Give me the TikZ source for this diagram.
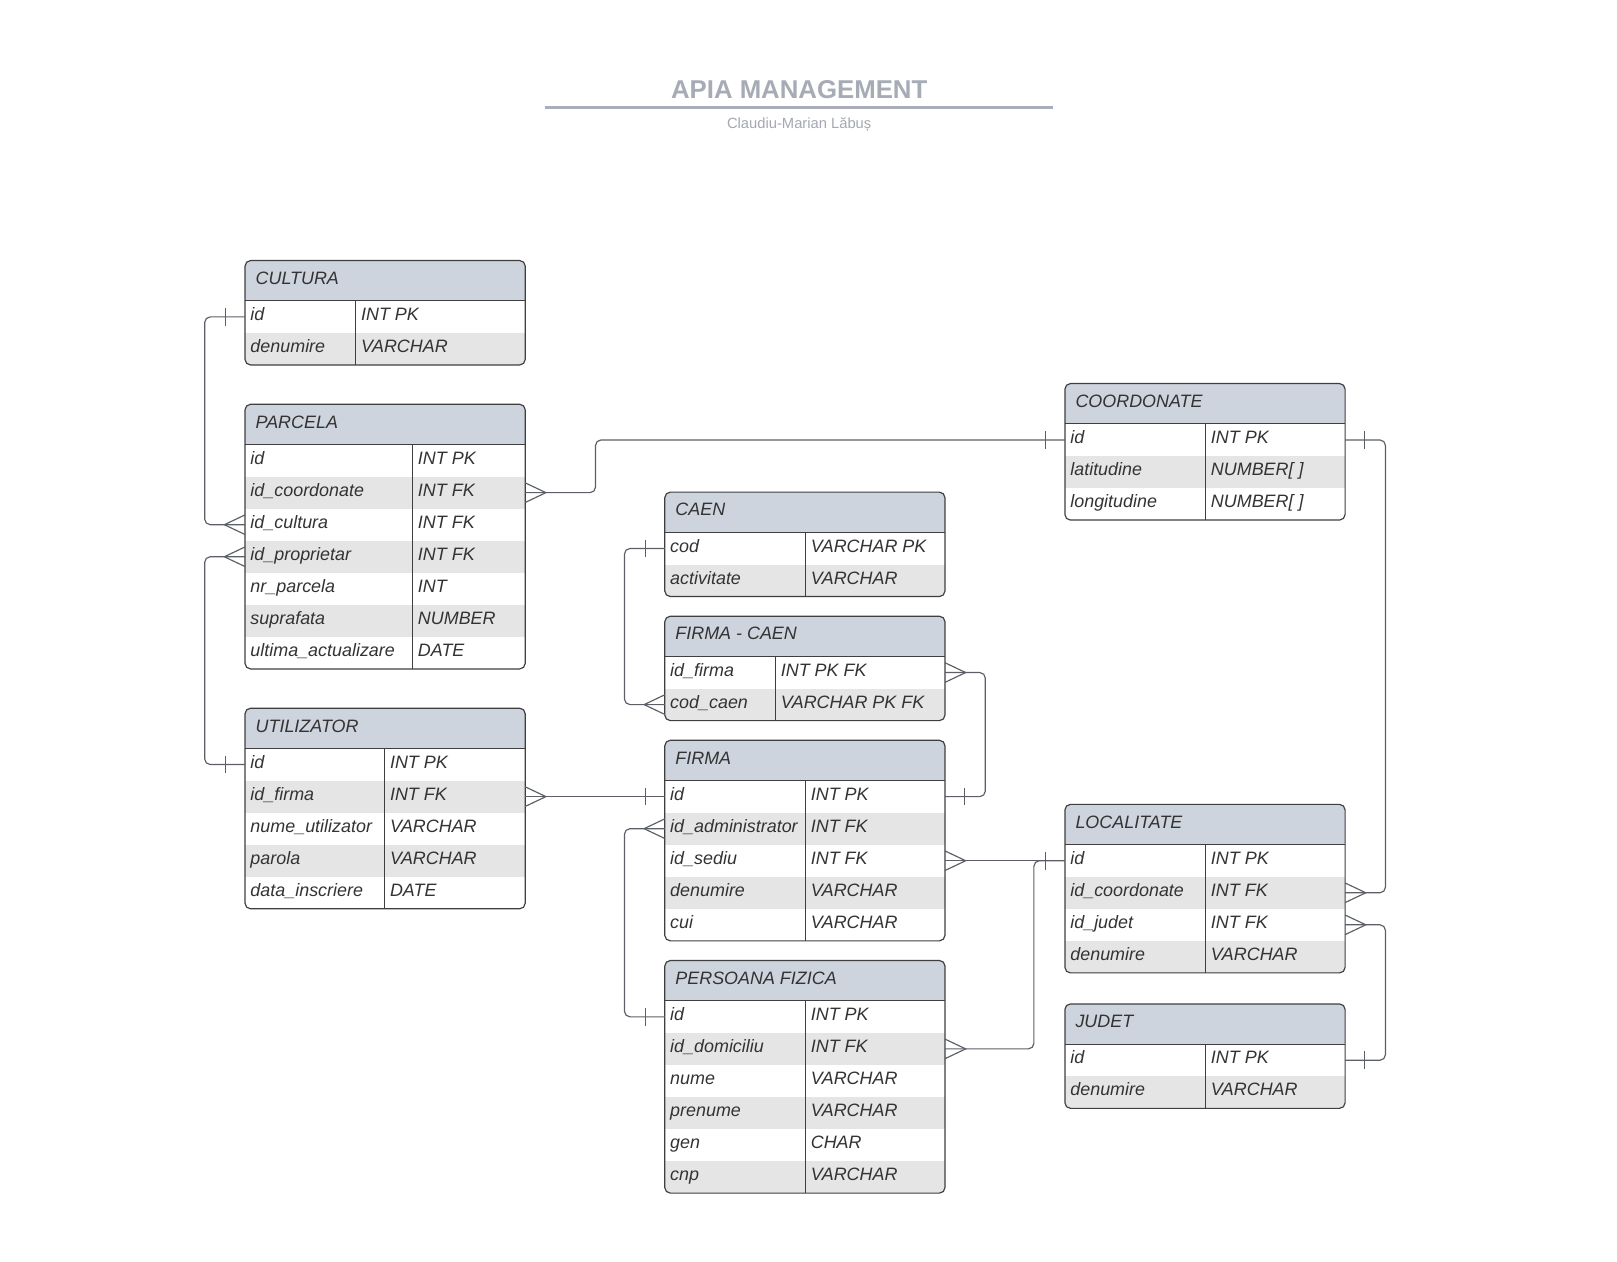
\documentclass[tikz,border=0pt]{standalone}
\usepackage{fontspec}
\setmainfont{Liberation Sans}
\usetikzlibrary{calc}
\definecolor{headfill}{HTML}{CED4DD}
\definecolor{rowfill}{HTML}{E5E5E5}
\definecolor{boxcol}{HTML}{3F3F3F}
\definecolor{conncol}{HTML}{5C6066}
\definecolor{txtcol}{HTML}{333333}
\definecolor{titlecol}{HTML}{A6ABB6}
\definecolor{ulinecol}{HTML}{AAAEBA}
\definecolor{subcol}{HTML}{A4A8B0}
\tikzset{
  boxline/.style={draw=boxcol, line width=0.85pt},
  conn/.style={draw=conncol, line width=0.85pt, rounded corners=4},
  fldtxt/.style={anchor=base west, inner sep=0pt, text=txtcol, font=\fontsize{13}{15}\selectfont\itshape},
  headtxt/.style={anchor=base west, inner sep=0pt, text=txtcol, font=\fontsize{13}{15}\selectfont\itshape},
  titletxt/.style={anchor=base, inner sep=0pt, text=titlecol, font=\fontsize{18.7}{22}\selectfont\bfseries},
  subtxt/.style={anchor=base, inner sep=0pt, text=subcol, font=\fontsize{10.7}{13}\selectfont},
}
\newcommand\erdtab[8]{%
  \pgfmathsetmacro\erdhb{#5+39}%
  \pgfmathsetmacro\erdbot{#5+39+31*#6}%
  \begin{scope}
    \clip[rounded corners=4] (#2,#5) rectangle (#3,\erdbot);
    \fill[white] (#2,#5) rectangle (#3,\erdbot);
    \fill[headfill] (#2,#5) rectangle (#3,\erdhb);
    \foreach \fa/\ty [count=\i] in {#8} {
      \ifodd\i\relax\else
        \fill[rowfill] (#2,{\erdhb+31*(\i-1)}) rectangle (#3,{\erdhb+31*\i});
      \fi
    }
  \end{scope}
  \node[headtxt] (#1) at (#2+10,#5+23) {#7};
  \foreach \fa/\ty [count=\i] in {#8} {
    \node[fldtxt] (#1-\i) at (#2+5,{\erdhb+31*\i-15.5+3.5}) {\fa};
    \node[fldtxt] (#1-\i-type) at (#4+5,{\erdhb+31*\i-15.5+3.5}) {\ty};
    \coordinate (#1-\i-W) at (#2,{\erdhb+31*\i-15.5});
    \coordinate (#1-\i-E) at (#3,{\erdhb+31*\i-15.5});
  }
  \draw[boxline] (#2,\erdhb) -- (#3,\erdhb);
  \draw[boxline] (#4,\erdhb) -- (#4,\erdbot);
  \draw[boxline, rounded corners=4] (#2,#5) rectangle (#3,\erdbot);
}
\newcommand\erdone[2]{\draw[conn] ($(#1)+(#2*19,-8.5)$) -- ($(#1)+(#2*19,8.5)$);}
\newcommand\erdmany[2]{\draw[conn, rounded corners=0] ($(#1)+(0,-9.5)$) -- ($(#1)+(#2*20,0)$) -- ($(#1)+(0,9.5)$);}
\begin{document}
\begin{tikzpicture}[x=0.75pt,y=-0.75pt]
\useasboundingbox (0,0) rectangle (1564,1219.7);
\fill[white] (0,0) rectangle (1564,1219.7);

% title
\node[titletxt] (title) at (773,95) {APIA MANAGEMENT};
\coordinate (ulA) at (527,104);
\coordinate (ulB) at (1018,104);
\draw[ulinecol, line width=1.5pt] (ulA) -- (ulB);
\node[subtxt] (subtitle) at (773,124.3) {Claudiu-Marian Lăbuș};

% tables
\erdtab{cultura}{237}{508}{344}{252}{2}{CULTURA}{id/INT PK, denumire/VARCHAR}
\erdtab{parcela}{237}{508}{399}{391}{7}{PARCELA}{id/INT PK, id\_coordonate/INT FK, id\_cultura/INT FK, id\_proprietar/INT FK, nr\_parcela/INT, suprafata/NUMBER, ultima\_actualizare/DATE}
\erdtab{utilizator}{237}{508}{372}{685}{5}{UTILIZATOR}{id/INT PK, id\_firma/INT FK, nume\_utilizator/VARCHAR, parola/VARCHAR, data\_inscriere/DATE}
\erdtab{caen}{643}{914}{779}{476}{2}{CAEN}{cod/VARCHAR PK, activitate/VARCHAR}
\erdtab{firmacaen}{643}{914}{750}{596}{2}{FIRMA - CAEN}{id\_firma/INT PK FK, cod\_caen/VARCHAR PK FK}
\erdtab{firma}{643}{914}{779}{716}{5}{FIRMA}{id/INT PK, id\_administrator/INT FK, id\_sediu/INT FK, denumire/VARCHAR, cui/VARCHAR}
\erdtab{persoana}{643}{914}{779}{929}{6}{PERSOANA FIZICA}{id/INT PK, id\_domiciliu/INT FK, nume/VARCHAR, prenume/VARCHAR, gen/CHAR, cnp/VARCHAR}
\erdtab{coordonate}{1030}{1301}{1166}{371}{3}{COORDONATE}{id/INT PK, latitudine/{NUMBER[ ]}, longitudine/{NUMBER[ ]}}
\erdtab{localitate}{1030}{1301}{1166}{778}{4}{LOCALITATE}{id/INT PK, id\_coordonate/INT FK, id\_judet/INT FK, denumire/VARCHAR}
\erdtab{judet}{1030}{1301}{1166}{971}{2}{JUDET}{id/INT PK, denumire/VARCHAR}

% routing columns
\coordinate (xL) at (198,0);
\coordinate (xM1) at (576,0);
\coordinate (xM2) at (604,0);
\coordinate (xM3) at (953,0);
\coordinate (xR1) at (1000,0);
\coordinate (xR2) at (1340,0);

% connectors
\draw[conn] (cultura-1-W) -- (cultura-1-W -| xL) |- (parcela-3-W);
\draw[conn] (utilizator-1-W) -- (utilizator-1-W -| xL) |- (parcela-4-W);
\draw[conn] (parcela-2-E) -- (parcela-2-E -| xM1) |- (coordonate-1-W);
\draw[conn] (caen-1-W) -- (caen-1-W -| xM2) |- (firmacaen-2-W);
\draw[conn] (firmacaen-1-E) -- (firmacaen-1-E -| xM3) |- (firma-1-E);
\draw[conn] (utilizator-2-E) -- (firma-1-W);
\draw[conn] (firma-2-W) -- (firma-2-W -| xM2) |- (persoana-1-W);
\draw[conn] (firma-3-E) -- (localitate-1-W);
\draw[conn] (persoana-2-E) -- (persoana-2-E -| xR1) |- (localitate-1-W);
\draw[conn] (coordonate-1-E) -- (coordonate-1-E -| xR2) |- (localitate-2-E);
\draw[conn] (judet-1-E) -- (judet-1-E -| xR2) |- (localitate-3-E);

% ends
\erdone{cultura-1-W}{-1}  \erdmany{parcela-3-W}{-1}
\erdone{utilizator-1-W}{-1}  \erdmany{parcela-4-W}{-1}
\erdmany{parcela-2-E}{1}  \erdone{coordonate-1-W}{-1}
\erdone{caen-1-W}{-1}  \erdmany{firmacaen-2-W}{-1}
\erdmany{firmacaen-1-E}{1}  \erdone{firma-1-E}{1}
\erdmany{utilizator-2-E}{1}  \erdone{firma-1-W}{-1}
\erdmany{firma-2-W}{-1}  \erdone{persoana-1-W}{-1}
\erdmany{firma-3-E}{1}  \erdone{localitate-1-W}{-1}
\erdmany{persoana-2-E}{1}
\erdone{coordonate-1-E}{1}  \erdmany{localitate-2-E}{1}
\erdone{judet-1-E}{1}  \erdmany{localitate-3-E}{1}
\end{tikzpicture}
\end{document}
